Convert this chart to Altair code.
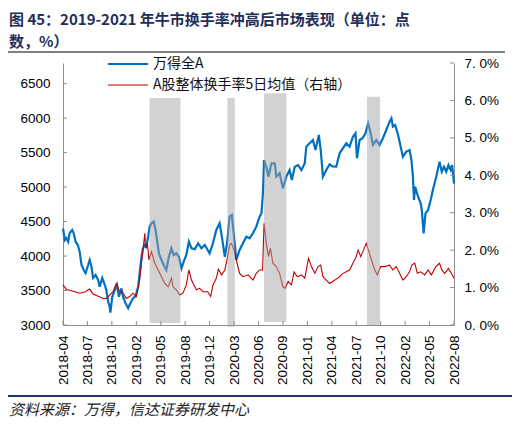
import altair as alt
import pandas as pd

# ---------------- data ----------------
x_labels = ["2018-04", "2018-07", "2018-10", "2019-02", "2019-05", "2019-08",
            "2019-12", "2020-03", "2020-06", "2020-09", "2021-01", "2021-04",
            "2021-07", "2021-10", "2022-02", "2022-05", "2022-08"]
days_per_label = 66
x_ticks = [i * days_per_label for i in range(len(x_labels))]
left_ticks = [3000, 3500, 4000, 4500, 5000, 5500, 6000, 6500]
right_ticks = [0, 1, 2, 3, 4, 5, 6, 7]

# 万得全A (trading-day index, index points)
wind_a = [(0, 4400), (5, 4233), (9, 4262), (14, 4208), (18, 4334), (25, 4378), (29, 4330),
          (34, 4208), (40, 4160), (45, 4063), (50, 3870), (56, 3798), (61, 3754), (68, 3870),
          (72, 3943), (77, 3846), (81, 3682), (88, 3725), (95, 3653), (99, 3555), (106, 3682),
          (113, 3580), (117, 3508), (122, 3338), (126, 3265), (128, 3178), (133, 3410),
          (140, 3508), (146, 3580), (151, 3410), (158, 3532), (162, 3410), (169, 3315),
          (176, 3242), (182, 3315), (189, 3387), (196, 3420), (203, 3555), (207, 3750),
          (212, 3990), (216, 4112), (221, 4160), (225, 4136), (230, 4281), (234, 4426),
          (239, 4475), (245, 4498), (250, 4378), (254, 4233), (259, 4040), (266, 3943),
          (272, 3870), (279, 3798), (286, 3990), (293, 4112), (299, 4015), (306, 4040),
          (313, 3990), (320, 3822), (326, 3920), (333, 4015), (340, 4208), (347, 4112),
          (356, 4100), (365, 4185), (374, 4112), (383, 4160), (396, 4040), (405, 4185),
          (414, 4378), (423, 4475), (429, 4281), (437, 3990), (443, 4185), (450, 4571),
          (456, 4595), (462, 4281), (468, 3943), (477, 4088), (486, 4185), (495, 4281),
          (504, 4257), (513, 4330), (522, 4426), (531, 4571), (536, 4620), (540, 4910),
          (543, 5393), (549, 5296), (555, 5151), (563, 5345), (572, 5345), (576, 5151),
          (585, 5200), (594, 4982), (603, 5151), (612, 5248), (618, 5103), (626, 5296),
          (635, 5320), (644, 5248), (653, 5345), (657, 5586), (666, 5635), (675, 5683),
          (682, 5538), (691, 5756), (696, 5538), (702, 5151), (711, 5248), (720, 5330),
          (728, 5300), (738, 5296), (747, 5490), (756, 5563), (765, 5635), (774, 5586),
          (783, 5731), (790, 5780), (794, 5418), (801, 5683), (809, 5708), (817, 5780),
          (824, 5925), (831, 5780), (837, 5611), (846, 5683), (855, 5611), (864, 5708),
          (873, 5828), (882, 5949), (887, 5998), (891, 5877), (897, 5900), (905, 5756),
          (912, 5586), (918, 5441), (927, 5514), (936, 5538), (941, 5393), (945, 5151),
          (948, 4813), (951, 5006), (959, 4861), (966, 4765), (969, 4668), (974, 4330),
          (979, 4620), (986, 4668), (993, 4813), (999, 4958), (1008, 5151), (1017, 5369),
          (1023, 5224), (1029, 5296), (1035, 5224), (1041, 5320), (1047, 5250), (1051, 5320),
          (1056, 5050)]

# A股整体换手率5日均值 (%)
turn_days = [0, 9, 18, 32, 45, 59, 72, 81, 95, 108, 117, 126, 135, 144, 151, 162, 171, 180, 189, 198,
             207, 212, 216, 221, 223, 228, 232, 239, 248, 257, 266, 275, 284, 293, 297, 306, 315, 324,
             333, 340, 347, 360, 369, 378, 391, 399, 405, 414, 420, 428, 437, 443, 450, 455, 462, 468,
             477, 486, 500, 513, 522, 531, 539, 543, 549, 555, 560, 567, 576, 585, 594, 600, 608, 617,
             624, 633, 644, 653, 663, 671, 680, 689, 696, 702, 711, 720, 734, 747, 756, 765, 774, 783,
             792, 797, 804, 810, 819, 825, 833, 842, 849, 858, 869, 882, 891, 900, 909, 918, 927, 936,
             942, 950, 957, 966, 977, 986, 995, 1007, 1017, 1023, 1031, 1041, 1049, 1056]
turn_vals = [1.07, 0.95, 0.93, 0.89, 0.85, 0.88, 0.96, 0.83, 0.77, 0.71,
             0.71, 0.80, 0.89, 1.11, 0.94, 0.85, 0.71, 0.76, 0.85, 0.76,
             1.20, 1.65, 2.00, 2.45, 2.05, 2.18, 1.74, 1.96, 1.65, 1.47,
             1.29, 1.11, 1.02, 1.25, 1.02, 0.94, 0.80, 0.85, 1.07, 1.47,
             1.20, 0.94, 0.98, 0.89, 0.89, 0.76, 1.07, 1.25, 1.49, 1.34,
             1.47, 1.74, 2.14, 2.18, 2.00, 1.74, 1.38, 1.29, 1.34, 1.20,
             1.38, 1.47, 1.47, 2.72, 2.18, 1.83, 2.05, 1.65, 1.56, 1.38,
             1.02, 0.98, 1.16, 1.07, 1.42, 1.29, 1.34, 1.25, 1.78, 1.56,
             1.38, 1.56, 1.60, 1.29, 1.20, 1.11, 1.20, 1.29, 1.38, 1.42,
             1.47, 1.65, 1.83, 2.00, 1.83, 1.96, 2.18, 2.00, 1.74, 1.47,
             1.34, 1.56, 1.56, 1.60, 1.47, 1.56, 1.38, 1.20, 1.29, 1.42,
             1.60, 1.65, 1.38, 1.42, 1.34, 1.47, 1.34, 1.56, 1.65, 1.47,
             1.38, 1.51, 1.38, 1.25]

# shaded periods (trading-day index) and their vertical extent (left axis units)
band_start = [234, 444, 543, 821]
band_end = [317, 464, 603, 856]
band_top = [6292, 6292, 6361, 6311]
band_bottom = [3029, 2975, 3044, 3000]

series_names = ["万得全A", "A股整体换手率5日均值（右轴）"]
title_lines = ["图 45：2019-2021 年牛市换手率冲高后市场表现（单位：点", "数，%）"]
source_text = "资料来源：万得，信达证券研发中心"

# ---------------- styling ----------------
W, H = 391, 262
BLUE = "#0070c0"
RED = "#c00000"
AX = "#8c8c8c"
NAVY = "#1f2f5a"
LAT = "Liberation Sans"
CJK = "Noto Sans CJK SC"

df_a = pd.DataFrame(wind_a, columns=["day", "val"])
df_t = pd.DataFrame({"day": turn_days, "pct": turn_vals})
df_b = pd.DataFrame({"day": band_start, "day_end": band_end, "top": band_top, "bot": band_bottom})

left_scale = alt.Scale(domain=[3000, 6800], nice=False, zero=False)
right_scale = alt.Scale(domain=[0, 7], nice=False, zero=False)

x_expr = "[" + ",".join("'%s'" % s for s in x_labels) + "][indexof(" + str(x_ticks) + ", datum.value)]"
X = alt.X("day:Q", scale=alt.Scale(domain=[0, x_ticks[-1]], nice=False, zero=False),
          axis=alt.Axis(values=x_ticks, labelExpr=x_expr, labelAngle=-90, grid=False,
                        ticks=False, tickSize=0, labelPadding=10, domainColor=AX,
                        labelFont=LAT, labelFontSize=13.5, labelColor="#000",
                        labelOverlap=False, labelFlush=False, title=None))

blue = alt.Chart(df_a).mark_line(color=BLUE, strokeWidth=2.2).encode(
    x=X,
    y=alt.Y("val:Q", scale=left_scale,
            axis=alt.Axis(orient="left", values=left_ticks, grid=False, ticks=False, tickSize=0,
                          labelPadding=13, domainColor=AX, labelFont=LAT, labelFontSize=13.5,
                          labelColor="#000", labelFlush=False, format="d", title=None)))

red = alt.Chart(df_t).mark_line(color=RED, strokeWidth=1.1).encode(
    x=X,
    y=alt.Y("pct:Q", scale=right_scale,
            axis=alt.Axis(orient="right", values=right_ticks, grid=False, ticks=False, tickSize=0,
                          labelPadding=10, domainColor=AX, labelFont=LAT, labelFontSize=13.5,
                          labelColor="#000", labelFlush=False,
                          labelExpr="replace(format(datum.value, '.1f'), '.', '. ') + '%'",
                          title=None)))

bands = alt.Chart(df_b).mark_rect(color="#a6a6a6", opacity=0.5).encode(
    x=X, x2="day_end:Q",
    y=alt.Y("top:Q", scale=left_scale, axis=None), y2="bot:Q")

tick_b = alt.Chart(pd.DataFrame({"day": x_ticks})).mark_rule(color=AX).encode(
    x=X, y=alt.value(H - 4), y2=alt.value(H))
tick_l = alt.Chart(pd.DataFrame({"val": left_ticks})).mark_rule(color=AX).encode(
    y=alt.Y("val:Q", scale=left_scale, axis=None), x=alt.value(0), x2=alt.value(4))
tick_r = alt.Chart(pd.DataFrame({"pct": right_ticks})).mark_rule(color=AX).encode(
    y=alt.Y("pct:Q", scale=right_scale, axis=None), x=alt.value(W - 4), x2=alt.value(W))

one = alt.Data(values=[{}])
leg_b = alt.Chart(one).mark_rule(color=BLUE, strokeWidth=2.2).encode(
    x=alt.value(45), x2=alt.value(85), y=alt.value(1))
leg_r = alt.Chart(one).mark_rule(color=RED, strokeWidth=1.1).encode(
    x=alt.value(45), x2=alt.value(85), y=alt.value(22))
leg_bt = alt.Chart(one).mark_text(align="left", baseline="middle", font=CJK, fontSize=14,
                                  color="#111").encode(
    x=alt.value(90), y=alt.value(1), text=alt.value(series_names[0]))
leg_rt = alt.Chart(one).mark_text(align="left", baseline="middle", font=CJK, fontSize=14,
                                  color="#111").encode(
    x=alt.value(90), y=alt.value(22), text=alt.value(series_names[1]))

t1 = alt.Chart(one).mark_text(align="left", baseline="middle", font=CJK, fontSize=15,
                              fontWeight="bold", color=NAVY).encode(
    x=alt.value(-54), y=alt.value(-43), text=alt.value(title_lines[0]))
t2 = alt.Chart(one).mark_text(align="left", baseline="middle", font=CJK, fontSize=15,
                              fontWeight="bold", color=NAVY).encode(
    x=alt.value(-54), y=alt.value(-21), text=alt.value(title_lines[1]))
top_rule = alt.Chart(one).mark_rule(color="#000", strokeWidth=1).encode(
    x=alt.value(-55), x2=alt.value(442), y=alt.value(-11))
bot_rule = alt.Chart(one).mark_rule(color="#1f3864", strokeWidth=2).encode(
    x=alt.value(-55), x2=alt.value(449), y=alt.value(333))
src = alt.Chart(one).mark_text(align="left", baseline="middle", font=CJK, fontSize=15,
                               fontStyle="italic", color="#222").encode(
    x=alt.value(-54), y=alt.value(347), text=alt.value(source_text))

chart = alt.layer(
    blue, red, bands, tick_b, tick_l, tick_r,
    leg_b, leg_r, leg_bt, leg_rt, t1, t2, top_rule, bot_rule, src
).resolve_scale(y="independent").properties(
    width=W, height=H,
    padding={"left": 55, "top": 55, "right": 58, "bottom": 93},
    autosize=alt.AutoSizeParams(type="none"),
).configure_view(stroke=None)

chart.save("out.html", embed_options={"renderer": "svg", "actions": False})
